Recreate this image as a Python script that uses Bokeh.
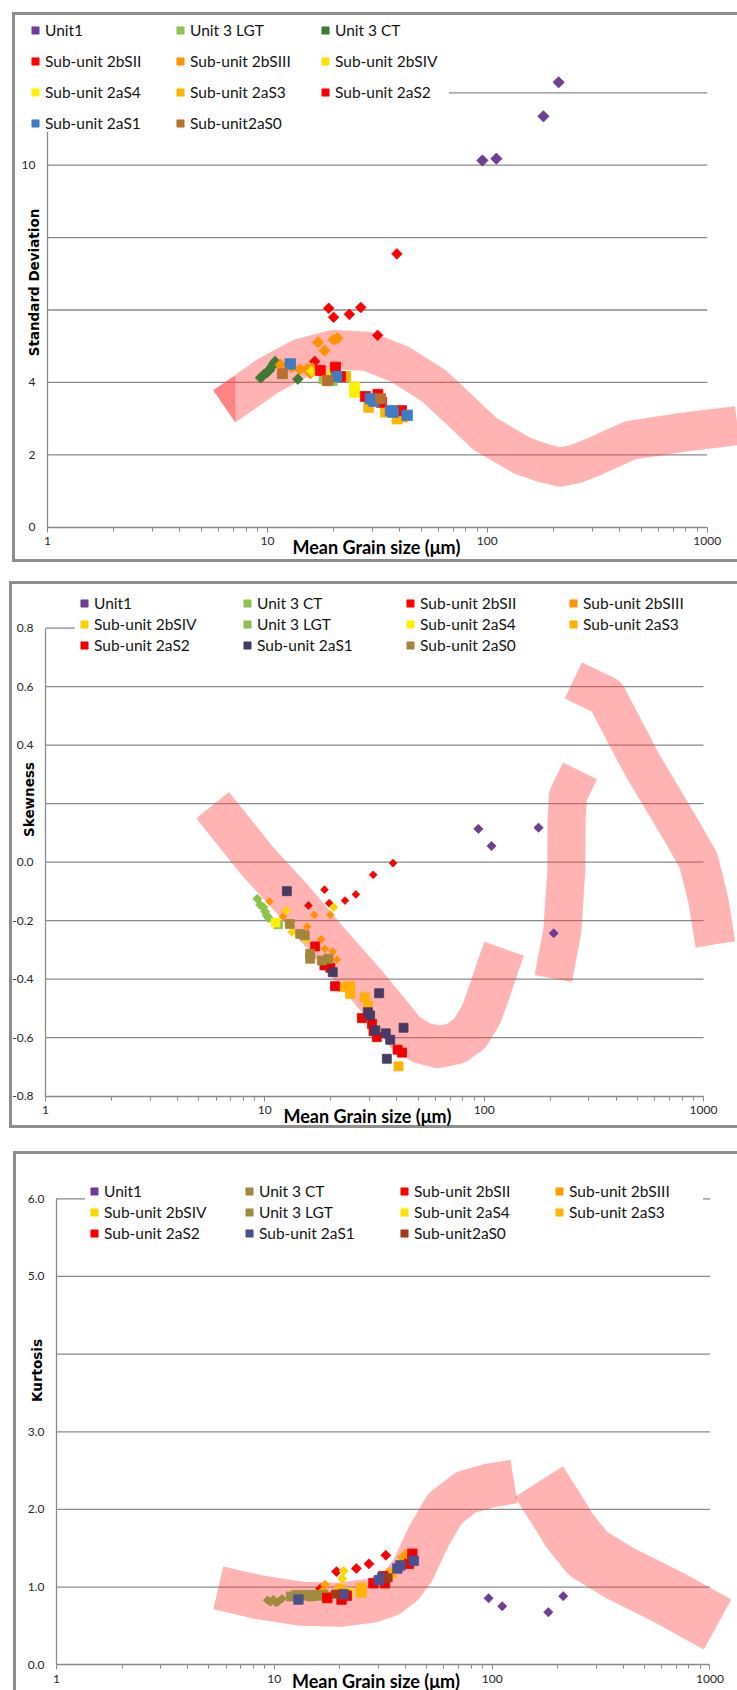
import numpy as np
from bokeh.embed import file_html
from bokeh.layouts import column
from bokeh.models import FixedTicker, Label, Legend, LegendItem, NumeralTickFormatter, Range1d
from bokeh.plotting import figure
from bokeh.resources import INLINE

# ---------------- shared axis values ----------------
X_MAJOR = [1, 10, 100, 1000]
X_MINOR = [2, 3, 4, 5, 6, 7, 8, 9, 20, 30, 40, 50, 60, 70, 80, 90,
           200, 300, 400, 500, 600, 700, 800, 900]
X_TITLE = "Mean Grain size (μm)"

# ---------------- Standard deviation panel ----------------
SD_TICKS = [0, 2, 4, 10]
SD_GRID = [2, 4, 6, 8, 10, 12]
SD_UNIT1 = ([95.0, 110.0, 180.0, 211.0], [10.13, 10.18, 11.35, 12.29])
SD_U3LGT = ([18.1, 19.7], [4.10, 4.05])
SD_U3CT = ([9.3, 9.5, 9.7, 9.95, 10.2, 10.45, 10.7, 10.85, 13.75],
           [4.13, 4.17, 4.23, 4.27, 4.33, 4.43, 4.52, 4.58, 4.09])
SD_2BSII = ([16.4, 19.0, 20.0, 23.6, 26.6, 31.7, 38.8],
            [4.58, 6.05, 5.80, 5.88, 6.07, 5.30, 7.55])
SD_2BSIII = ([11.5, 12.9, 14.1, 15.2, 15.7, 16.0, 17.0, 17.4, 18.2, 20.0, 20.8],
             [4.49, 4.42, 4.36, 4.37, 4.25, 4.39, 5.11, 4.33, 4.88, 5.18, 5.22])
SD_2BSIV = ([15.9, 19.2], [4.31, 4.22])
SD_2AS4 = ([24.9, 24.9], [3.87, 3.73])
SD_2AS3 = ([18.7, 22.7, 28.9, 34.4, 38.9, 41.0], [4.05, 4.16, 3.31, 3.18, 2.99, 3.04])
SD_2AS2 = ([17.4, 20.4, 21.5, 27.9, 31.8, 33.0, 40.7], [4.33, 4.42, 4.16, 3.61, 3.67, 3.45, 3.22])
SD_2AS1 = ([12.7, 20.6, 29.4, 30.5, 36.3, 37.3, 43.2], [4.51, 4.16, 3.55, 3.48, 3.22, 3.18, 3.09])
SD_2AS0 = ([11.7, 18.8, 32.7], [4.24, 4.05, 3.55])
SD_BAND = ([6.37, 7.16, 9.98, 14.14, 20.04, 28.4, 40.3, 57.1, 75.5, 97.4, 144, 180, 214, 250, 302, 448, 769, 1372],
           [3.34, 3.55, 4.17, 4.67, 4.91, 4.86, 4.49, 3.91, 3.22, 2.58, 1.98, 1.77, 1.66, 1.74, 1.93, 2.40, 2.62, 2.81])
SD_BAND_OVERLAP = ([5.66, 7.16, 7.16], [3.78, 4.19, 2.90])

# ---------------- Skewness panel ----------------
SK_TICKS = [-0.8, -0.6, -0.4, -0.2, 0.0, 0.4, 0.6, 0.8]
SK_GRID = [-0.6, -0.4, -0.2, 0.0, 0.2, 0.4, 0.6, 0.8]
SK_UNIT1 = ([94.1, 108.0, 177.0, 207.5], [0.114, 0.055, 0.118, -0.243])
SK_U3CT = ([9.25, 9.52, 9.86, 10.03, 10.2, 10.4], [-0.125, -0.146, -0.154, -0.169, -0.182, -0.191])
SK_2BSII = ([15.8, 18.7, 19.65, 23.2, 26.0, 31.2, 38.4],
            [-0.148, -0.094, -0.140, -0.131, -0.110, -0.043, -0.003])
SK_2BSIII = ([10.5, 12.1, 13.0, 15.6, 16.8, 18.06, 18.8, 19.9, 20.4, 21.3],
             [-0.134, -0.186, -0.211, -0.220, -0.180, -0.264, -0.296, -0.180, -0.305, -0.333])
SK_2BSIV = ([11.1, 12.5, 13.3, 15.4, 20.6], [-0.205, -0.165, -0.239, -0.264, -0.154])
SK_U3LGT = ([11.5], [-0.213])
SK_2AS4 = ([11.2], [-0.207])
SK_2AS3 = ([22.6, 24.5, 24.5, 28.5, 29.5, 40.7], [-0.427, -0.424, -0.450, -0.462, -0.490, -0.698])
SK_2AS2 = ([16.96, 18.7, 19.9, 20.9, 27.7, 30.8, 31.3, 32.4, 40.3, 42.2],
           [-0.288, -0.353, -0.361, -0.424, -0.533, -0.553, -0.578, -0.598, -0.641, -0.651])
SK_2AS1 = ([12.6, 20.4, 29.5, 30.2, 31.9, 33.2, 35.6, 36.0, 37.3, 42.9],
           [-0.099, -0.376, -0.513, -0.524, -0.575, -0.448, -0.585, -0.672, -0.607, -0.566])
SK_2AS0 = ([13.0, 14.5, 15.2, 16.1, 16.1, 18.2, 19.5], [-0.211, -0.245, -0.250, -0.313, -0.330, -0.336, -0.330])
SK_BAND_A = ([5.78, 9.19, 13.52, 19.86, 28.8, 37.0, 44.0, 52.0, 62.0, 74.0, 86.0, 97.0, 106.0, 115.0, 123.3],
             [0.195, 0.006, -0.131, -0.279, -0.416, -0.515, -0.585, -0.618, -0.632, -0.620, -0.585,
              -0.520, -0.440, -0.360, -0.296])
SK_BAND_B = ([206.7, 227.2, 236.9, 237.4, 241.2, 273.5], [-0.398, -0.234, -0.028, 0.143, 0.228, 0.312])
SK_BAND_C = ([255, 360.6, 521, 793, 948, 1053, 1133], [0.621, 0.567, 0.338, 0.108, 0.006, -0.131, -0.281])

# ---------------- Kurtosis panel ----------------
KU_TICKS = [0.0, 1.0, 2.0, 3.0, 5.0, 6.0]
KU_GRID = [1.0, 2.0, 3.0, 4.0, 5.0, 6.0]
KU_UNIT1 = ([96.3, 111.2, 181.0, 212.0], [0.857, 0.754, 0.677, 0.883])
KU_U3CT = ([9.3, 9.6, 9.9, 10.2, 10.5, 10.85], [0.83, 0.81, 0.84, 0.80, 0.82, 0.85])
KU_2BSII = ([16.3, 19.3, 23.8, 27.2, 32.5], [0.98, 1.20, 1.24, 1.30, 1.41])
KU_2BSIII = ([16.8, 17.1, 38.7, 40.0], [0.96, 1.03, 1.38, 1.43])
KU_2BSIV = ([20.5, 20.8], [1.11, 1.21])
KU_U3LGT = ([11.9, 12.6, 13.2, 14.0, 14.7, 15.5, 16.0, 16.7, 17.5],
            [0.88, 0.90, 0.89, 0.90, 0.88, 0.90, 0.89, 0.90, 0.88])
KU_2AS4 = ([22.0], [0.93])
KU_2AS3 = ([20.0, 25.1, 25.1, 34.5], [0.97, 0.99, 0.93, 1.18])
KU_2AS2 = ([17.5, 20.35, 21.5, 28.5, 31.6, 32.2, 41.5, 43.0], [0.86, 0.84, 0.89, 1.05, 1.14, 1.05, 1.30, 1.43])
KU_2AS1 = ([12.9, 20.8, 30.2, 31.3, 36.7, 37.9, 43.7], [0.84, 0.91, 1.09, 1.12, 1.24, 1.28, 1.34])
KU_2AS0 = ([19.1, 33.3], [0.91, 1.12])
KU_BAND_D = ([5.53, 8.52, 13.3, 19.8, 28.1, 33.5, 38.5, 43.2, 50.9, 60.6, 75.8, 97.3, 125.9],
             [0.991, 0.870, 0.785, 0.772, 0.827, 0.900, 1.030, 1.214, 1.643, 2.008, 2.222, 2.308, 2.359])
KU_BAND_E = ([163.8, 195, 226.5, 276.2, 391, 643, 1083], [2.359, 2.028, 1.728, 1.429, 1.171, 0.870, 0.519])

# ---------------- styling ----------------
GRID_COLOR = "#8a8a8a"
BAND_COLOR = "#ff4040"
BAND_ALPHA = 0.4
BOX = "#8e8e8e"
LABEL_FONT = "Lato"
TITLE_FONT = "DejaVu Sans"


def base_figure(width, height, margin, x_range, y_range, y_bounds, x_axis_at,
                ticks, fmt, grid, shadow):
    # the frame fills the whole panel; axes sit at fixed data locations inside it
    p = figure(width=width, height=height, x_axis_type="log",
               x_range=Range1d(*x_range), y_range=Range1d(*y_range),
               output_backend="svg", toolbar_location=None, title=None,
               min_border=0, min_border_left=0, min_border_right=0,
               min_border_top=0, min_border_bottom=0)
    p.margin = margin
    p.styles = {"box-shadow": shadow, "background-color": "#ffffff"}
    p.border_fill_color = None
    p.background_fill_color = None
    p.outline_line_color = None
    p.xgrid.visible = False
    p.ygrid.visible = False

    xa = p.xaxis[0]
    xa.fixed_location = x_axis_at
    xa.ticker = FixedTicker(ticks=X_MAJOR, minor_ticks=X_MINOR)
    xa.formatter = NumeralTickFormatter(format="0")
    xa.bounds = (X_MAJOR[0], X_MAJOR[-1])
    xa.axis_line_color = GRID_COLOR
    xa.axis_line_width = 1.3
    xa.major_tick_line_color = GRID_COLOR
    xa.minor_tick_line_color = GRID_COLOR
    xa.major_tick_in = 0
    xa.major_tick_out = 5
    xa.minor_tick_in = 0
    xa.minor_tick_out = 4
    xa.major_label_standoff = 5
    xa.major_label_text_font = LABEL_FONT
    xa.major_label_text_font_size = "12px"
    xa.major_label_text_color = "#262626"

    ya = p.yaxis[0]
    ya.fixed_location = X_MAJOR[0]
    ya.ticker = FixedTicker(ticks=ticks, minor_ticks=[])
    ya.formatter = NumeralTickFormatter(format=fmt)
    ya.bounds = y_bounds
    ya.axis_line_color = GRID_COLOR
    ya.axis_line_width = 1.3
    ya.major_tick_in = 0
    ya.major_tick_out = 0
    ya.minor_tick_in = 0
    ya.minor_tick_out = 0
    ya.major_label_standoff = 12
    ya.major_label_text_font = LABEL_FONT
    ya.major_label_text_font_size = "12px"
    ya.major_label_text_color = "#262626"

    # horizontal gridlines limited to the extent of the x axis
    p.segment(x0=X_MAJOR[0], x1=X_MAJOR[-1], y0=grid, y1=grid,
              line_color=GRID_COLOR, line_width=1.3)
    return p


def band(p, path, width):
    p.line(path[0], path[1], line_color=BAND_COLOR, line_alpha=BAND_ALPHA,
           line_width=width, line_cap="butt", line_join="round")


def points(p, data, shape, color, size):
    angle = np.pi / 4 if shape == "diamond" else 0.0
    return p.scatter(data[0], data[1], marker="square", angle=angle, size=size,
                     fill_color=color, line_color=color, line_width=0.8)


def legend(p, entries, ncols, location, padding, spacing, label_width):
    items = [LegendItem(label=lab, renderers=[r]) for lab, r in entries]
    lg = Legend(items=items, orientation="horizontal", ncols=ncols, location=location,
                padding=padding, spacing=spacing, margin=0,
                glyph_width=18, glyph_height=18, label_height=19,
                label_width=label_width, label_standoff=1,
                label_text_font=LABEL_FONT, label_text_font_size="15.5px",
                label_text_color="#141414",
                border_line_color=None, background_fill_color="#ffffff",
                background_fill_alpha=1.0)
    p.add_layout(lg)


def titles(p, xpos, ytext, ypos):
    p.add_layout(Label(x=xpos[0], y=xpos[1], x_units="screen", y_units="screen",
                       text=X_TITLE, text_font=LABEL_FONT, text_font_size="18px",
                       text_font_style="bold", text_color="#000000",
                       text_align="center", text_baseline="middle"))
    p.add_layout(Label(x=ypos[0], y=ypos[1], x_units="screen", y_units="screen",
                       text=ytext, text_font=TITLE_FONT, text_font_size="13.5px",
                       text_font_style="bold", text_color="#000000", angle=np.pi / 2,
                       text_align="center", text_baseline="middle"))


SHADOW_FULL = f"inset 3px 3px 0 0 {BOX}, inset 0 -3px 0 0 {BOX}"
SHADOW_OPEN = f"inset 3px 3px 0 0 {BOX}"

# ---------- Standard deviation ----------
p1 = base_figure(725, 550, (12, 0, 0, 12),
                 (10 ** ((12 - 47) / 219.9), 10 ** ((737 - 47) / 219.9)),
                 ((526.7 - 562) / 36.2, (526.7 - 12) / 36.2), (0, 14), 0,
                 SD_TICKS, "0", SD_GRID, SHADOW_FULL)
band(p1, SD_BAND, 39)
p1.patch(SD_BAND_OVERLAP[0], SD_BAND_OVERLAP[1], fill_color=BAND_COLOR,
         fill_alpha=BAND_ALPHA, line_color=None)
sd = [
    ("Unit1", points(p1, SD_UNIT1, "diamond", "#6f3d98", 8)),
    ("Unit 3 LGT", points(p1, SD_U3LGT, "square", "#8dc153", 10)),
    ("Unit 3 CT", points(p1, SD_U3CT, "diamond", "#3f7a33", 7.5)),
    ("Sub-unit 2bSII", points(p1, SD_2BSII, "diamond", "#ff0000", 7.5)),
    ("Sub-unit 2bSIII", points(p1, SD_2BSIII, "diamond", "#ff9200", 8)),
    ("Sub-unit 2bSIV", points(p1, SD_2BSIV, "diamond", "#ffe000", 7.5)),
    ("Sub-unit 2aS4", points(p1, SD_2AS4, "square", "#fff000", 10)),
    ("Sub-unit 2aS3", points(p1, SD_2AS3, "square", "#ffb400", 10)),
    ("Sub-unit 2aS2", points(p1, SD_2AS2, "square", "#ff0000", 10)),
    ("Sub-unit 2aS1", points(p1, SD_2AS1, "square", "#3e7cc4", 10.5)),
    ("Sub-unit2aS0", points(p1, SD_2AS0, "square", "#b8702e", 10)),
]
legend(p1, sd, 3, (14, 430), 5, 12, 114)
titles(p1, (364, 16), "Standard Deviation", (21.5, 280))

# ---------- Skewness ----------
p2 = base_figure(728, 547, (19, 0, 0, 9),
                 (10 ** ((9 - 45) / 219.33), 10 ** ((737 - 45) / 219.33)),
                 (-0.8 - (1128 - 1095.7) / 292.5, 0.8 + (627.7 - 581) / 292.5), (-0.8, 0.8), -0.8,
                 SK_TICKS, "0.0", SK_GRID, SHADOW_FULL)
band(p2, SK_BAND_A, 42)
band(p2, SK_BAND_B, 38)
band(p2, SK_BAND_C, 40)
sk = [
    ("Unit1", points(p2, SK_UNIT1, "diamond", "#6b3f93", 6.5)),
    ("Unit 3 CT", points(p2, SK_U3CT, "diamond", "#8cc34b", 6.5)),
    ("Sub-unit 2bSII", points(p2, SK_2BSII, "diamond", "#ff0000", 5.5)),
    ("Sub-unit 2bSIII", points(p2, SK_2BSIII, "diamond", "#ff9000", 5.5)),
    ("Sub-unit 2bSIV", points(p2, SK_2BSIV, "diamond", "#ffd200", 6)),
    ("Unit 3 LGT", points(p2, SK_U3LGT, "square", "#8dc153", 8.5)),
    ("Sub-unit 2aS4", points(p2, SK_2AS4, "square", "#fff000", 8.5)),
    ("Sub-unit 2aS3", points(p2, SK_2AS3, "square", "#ffb000", 9)),
    ("Sub-unit 2aS2", points(p2, SK_2AS2, "square", "#f20000", 9)),
    ("Sub-unit 2aS1", points(p2, SK_2AS1, "square", "#463b64", 9)),
    ("Sub-unit 2aS0", points(p2, SK_2AS0, "square", "#a3863a", 9)),
]
legend(p2, sk, 4, (66, 474), 6, 2, 142)
titles(p2, (358, 13), "Skewness", (19, 329))

# ---------- Kurtosis ----------
p3 = base_figure(724, 539, (23, 0, 0, 13),
                 (10 ** ((13 - 56) / 217.83), 10 ** ((737 - 56) / 217.83)),
                 (-(1690 - 1664.3) / 77.67, (1664.3 - 1151) / 77.67), (0, 6), 0,
                 KU_TICKS, "0.0", KU_GRID, SHADOW_OPEN)
band(p3, KU_BAND_D, 44)
band(p3, KU_BAND_E, 57)
ku = [
    ("Unit1", points(p3, KU_UNIT1, "diamond", "#6f3d98", 6.5)),
    ("Unit 3 CT", points(p3, KU_U3CT, "diamond", "#a08a3c", 6)),
    ("Sub-unit 2bSII", points(p3, KU_2BSII, "diamond", "#ff0000", 7)),
    ("Sub-unit 2bSIII", points(p3, KU_2BSIII, "diamond", "#ff9f00", 6.5)),
    ("Sub-unit 2bSIV", points(p3, KU_2BSIV, "diamond", "#ffd700", 6.5)),
    ("Unit 3 LGT", points(p3, KU_U3LGT, "square", "#a08c3e", 9)),
    ("Sub-unit 2aS4", points(p3, KU_2AS4, "square", "#ffe200", 9)),
    ("Sub-unit 2aS3", points(p3, KU_2AS3, "square", "#ffb400", 9.5)),
    ("Sub-unit 2aS2", points(p3, KU_2AS2, "square", "#f50000", 9.5)),
    ("Sub-unit 2aS1", points(p3, KU_2AS1, "square", "#4b5090", 9.5)),
    ("Sub-unit2aS0", points(p3, KU_2AS0, "square", "#a33a16", 8)),
]
legend(p3, ku, 4, (72, 448), 8, 2, 134)
titles(p3, (362.5, 10), "Kurtosis", (23.7, 320))

layout = column(p1, p2, p3)
open("out.html", "w").write(file_html(layout, INLINE))
